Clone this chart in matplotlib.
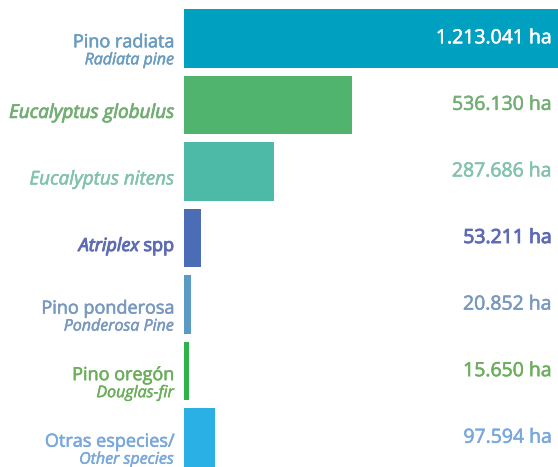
import matplotlib
matplotlib.use("Agg")
import matplotlib.pyplot as plt
import matplotlib.transforms as mtransforms
import matplotlib.patheffects as pe

plt.rcParams['font.family'] = ['Open Sans', 'DejaVu Sans']

main_labels = ["Pino radiata", "Eucalyptus globulus", "Eucalyptus nitens", "spp",
               "Pino ponderosa", "Pino oregón", "Otras especies/"]
sub_labels = ["Radiata pine", "", "", "", "Ponderosa Pine", "Douglas-fir", "Other species"]
main_italic = [False, True, True, False, False, False, False]
values = [1213041, 536130, 287686, 53211, 20852, 15650, 97594]
value_labels = ["1.213.041 ha", "536.130 ha", "287.686 ha", "53.211 ha",
                "20.852 ha", "15.650 ha", "97.594 ha"]
bar_colors = ["#00A0C0", "#50B46E", "#4DBAA8", "#4A6DB5", "#5B9AC2", "#2DB34A", "#2BB0E6"]
text_colors = ["#6A9CC0", "#74AE74", "#82C2AE", "#5E6CB6", "#7898C0", "#6CAE5C", "#78A8DC"]
value_colors = ["white", "#74AE74", "#82C2AE", "#5E6CB6", "#7898C0", "#6CAE5C", "#78A8DC"]

fig = plt.figure(figsize=(5.58, 4.67), dpi=100)
ax = fig.add_axes([184/558, 0, 374/558, 1])
ypos = list(range(len(values)))
ax.barh(ypos, values, height=0.88, color=bar_colors)
ax.set_xlim(0, 1195000)
ppu = 458/6.88
ax.set_ylim(6.44, 6.44 - 467/ppu)
ax.axis('off')

def thick(c, w=0.4):
    return [pe.withStroke(linewidth=w, foreground=c)]

trans = mtransforms.blended_transform_factory(ax.transAxes, ax.transData)
px = 1/ppu
for i in ypos:
    c = text_colors[i]
    if sub_labels[i]:
        ax.text(-0.027, i + 4*px, main_labels[i], transform=trans, ha='right', va='center',
                fontsize=13, color=c, style='italic' if main_italic[i] else 'normal',
                path_effects=thick(c))
        ax.text(-0.027, i + 22*px, sub_labels[i], transform=trans, ha='right', va='center',
                fontsize=11.5, color=c, style='italic', path_effects=thick(c, 0.35))
    elif i == 3:
        t = ax.text(-0.027, i + 8*px, main_labels[i], transform=trans, ha='right', va='center',
                    fontsize=13, color=c, path_effects=thick(c, 0.7))
        ax.annotate("Atriplex ", xy=(0, 0.5), xycoords=t, ha='right', va='center',
                    fontsize=13, color=c, style='italic', path_effects=thick(c, 0.7))
    else:
        ax.text(-0.027, i + 8*px, main_labels[i], transform=trans, ha='right', va='center',
                fontsize=13.6, color=c, style='italic',
                path_effects=thick(c, 0.6 if i == 1 else 0.4))
    vc = value_colors[i]
    ax.text(0.984, i, value_labels[i], transform=trans, ha='right', va='center',
            fontsize=14, color=vc, path_effects=thick(vc, 0.7 if i == 3 else 0.4))

fig.savefig("out.png", dpi=100)
